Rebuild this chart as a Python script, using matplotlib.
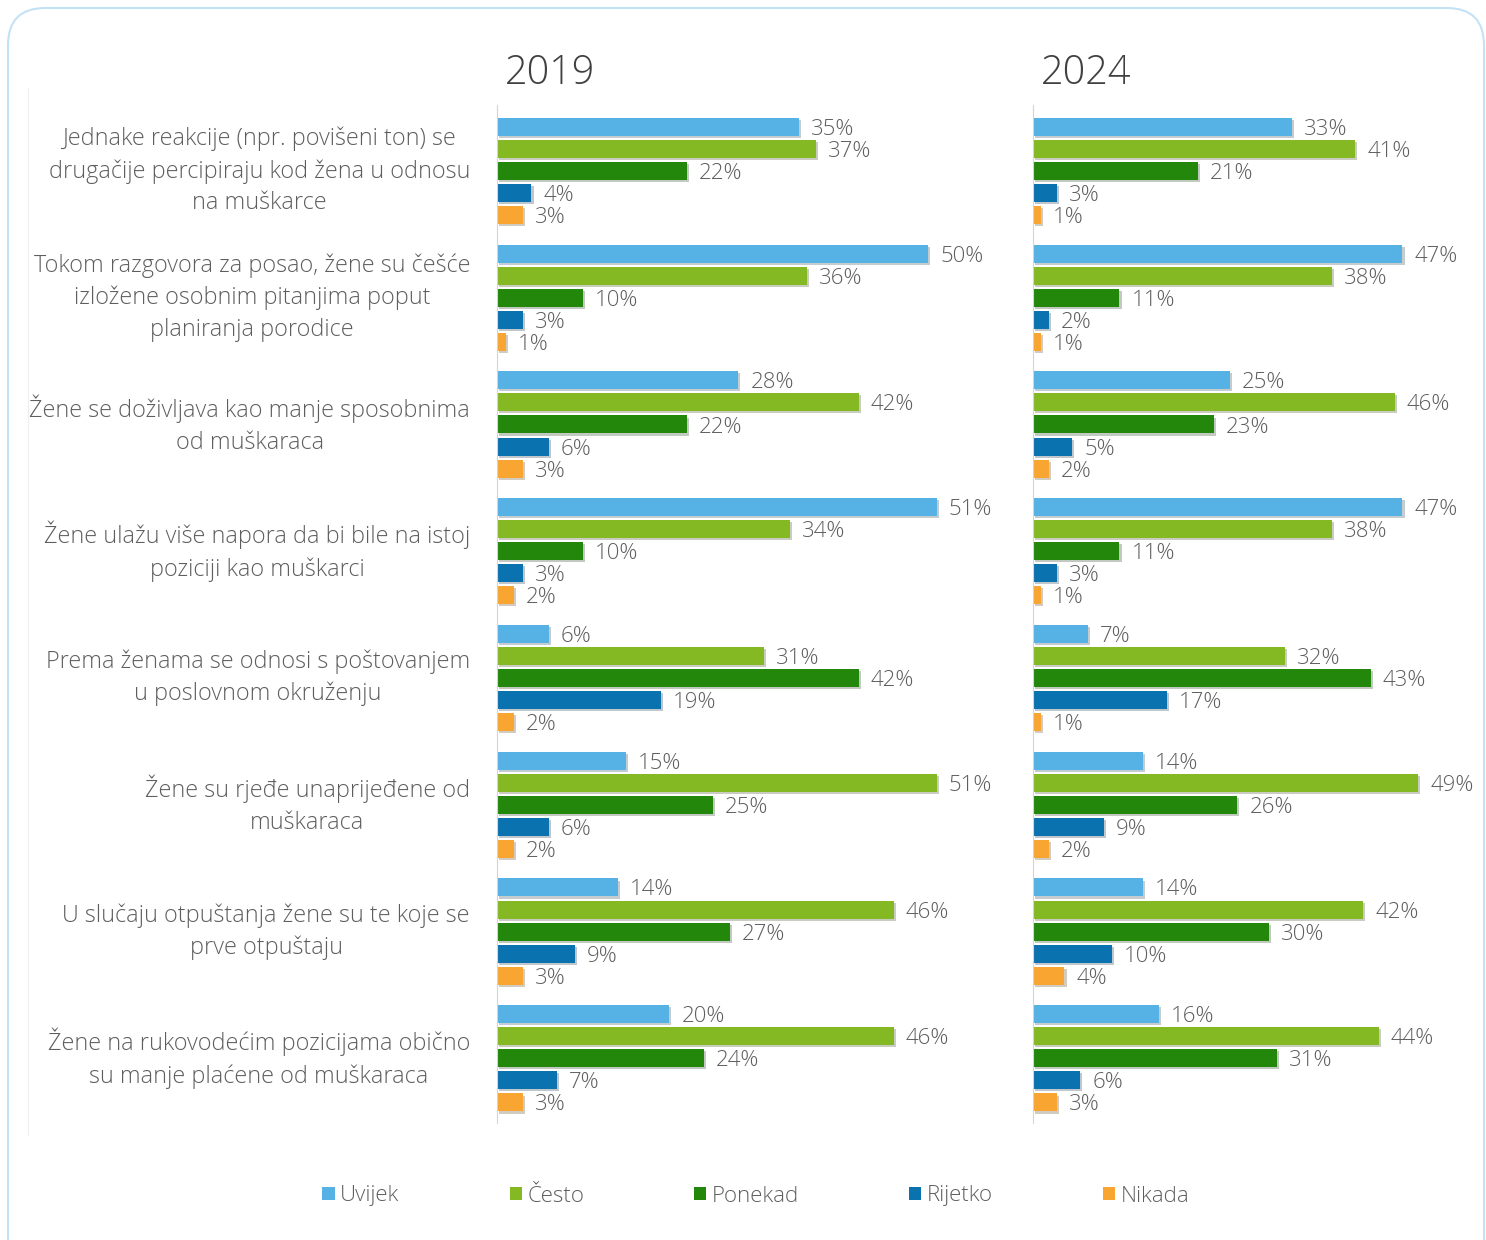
import numpy as np
import matplotlib.pyplot as plt
from matplotlib.patches import Patch, FancyBboxPatch
from matplotlib.lines import Line2D
import matplotlib.patheffects as pe

plt.rcParams['font.family'] = ['Open Sans', 'DejaVu Sans']

# Podaci
kategorije = [
    'Jednake reakcije (npr. povišeni ton) se\ndrugačije percipiraju kod žena u odnosu\nna muškarce',
    'Tokom razgovora za posao, žene su češće\nizložene osobnim pitanjima poput\nplaniranja porodice',
    'Žene se doživljava kao manje sposobnima\nod muškaraca',
    'Žene ulažu više napora da bi bile na istoj\npoziciji kao muškarci',
    'Prema ženama se odnosi s poštovanjem\nu poslovnom okruženju',
    'Žene su rjeđe unaprijeđene od\nmuškaraca',
    'U slučaju otpuštanja žene su te koje se\nprve otpuštaju',
    'Žene na rukovodećim pozicijama obično\nsu manje plaćene od muškaraca',
]
serije = ['Uvijek', 'Često', 'Ponekad', 'Rijetko', 'Nikada']
boje = ['#56b2e4', '#84b924', '#23870c', '#0b72b0', '#f8a531']

godina_2019 = {
    'Uvijek':  [35, 50, 28, 51, 6, 15, 14, 20],
    'Često':   [37, 36, 42, 34, 31, 51, 46, 46],
    'Ponekad': [22, 10, 22, 10, 42, 25, 27, 24],
    'Rijetko': [4, 3, 6, 3, 19, 6, 9, 7],
    'Nikada':  [3, 1, 3, 2, 2, 2, 3, 3],
}
godina_2024 = {
    'Uvijek':  [33, 47, 25, 47, 7, 14, 14, 16],
    'Često':   [41, 38, 46, 38, 32, 49, 42, 44],
    'Ponekad': [21, 11, 23, 11, 43, 26, 30, 31],
    'Rijetko': [3, 2, 5, 3, 17, 9, 10, 6],
    'Nikada':  [1, 1, 2, 1, 1, 2, 4, 3],
}

W, H = 1486, 1240
fig = plt.figure(figsize=(W / 100, H / 100), dpi=100)

# okvir
okvir = FancyBboxPatch((8 / W, -0.05), (W - 10) / W, (H - 8) / H + 0.05,
                       boxstyle='round,pad=0,rounding_size=0.025',
                       transform=fig.transFigure, fill=False,
                       edgecolor='#c4e2f6', linewidth=1.5, mutation_aspect=W / H)
fig.patches.append(okvir)
fig.add_artist(Line2D([28 / W, 28 / W], [1 - 1135 / H, 1 - 88 / H],
                      transform=fig.transFigure, color='#f0f0f0', lw=1))

top, bottom = 105, 1123
siva = '#5e5e5e'


def panel(x0, sirina, px_po_postotku, podaci, naslov, oznake):
    ax = fig.add_axes([x0 / W, 1 - bottom / H, sirina / W, (bottom - top) / H])
    n = len(kategorije)
    y = np.arange(n)
    korak = 0.174
    for k, s in enumerate(serije):
        yy = y + (k - 2) * korak
        vals = podaci[s]
        bars = ax.barh(yy, vals, height=0.142, color=boje[k])
        for b in bars:
            b.set_path_effects([pe.SimplePatchShadow(offset=(1.5, -1.5), alpha=0.25), pe.Normal()])
        for yi, v in zip(yy, vals):
            ax.text(v + 12 / px_po_postotku, yi + 0.02, f'{v}%', va='center', ha='left',
                    fontsize=16, color=siva, fontweight='light')
    ax.set_xlim(0, sirina / px_po_postotku)
    ax.set_ylim(n - 0.49, -0.52)
    for sp in ['top', 'right', 'bottom']:
        ax.spines[sp].set_visible(False)
    ax.spines['left'].set_color('#d4d4d4')
    ax.set_xticks([])
    ax.set_yticks([])
    fig.text((x0 + 8) / W, 1 - 74 / H, naslov, fontsize=28.5, color='#404040',
             va='center', ha='left', fontweight='light')
    if oznake:
        for i, kat in enumerate(kategorije):
            ax.text(-27 / px_po_postotku, i, kat, ha='right', va='center',
                    multialignment='center', fontsize=16.8, color=siva,
                    linespacing=1.42, fontweight='light')
    return ax


panel(497, 500, 8.62, godina_2019, '2019', True)
panel(1033, 445, 7.86, godina_2024, '2024', False)

rucke = [Patch(facecolor=c, edgecolor='none') for c in boje]
fig.legend(rucke, serije, loc='center', bbox_to_anchor=(756 / W, 1 - 1196 / H),
           ncol=5, frameon=False, handlelength=0.55, handleheight=0.55,
           handletextpad=0.25, columnspacing=4.95, labelcolor=siva,
           prop={'size': 16, 'weight': 'light'})

fig.savefig('out.png', dpi=100, facecolor='white')
